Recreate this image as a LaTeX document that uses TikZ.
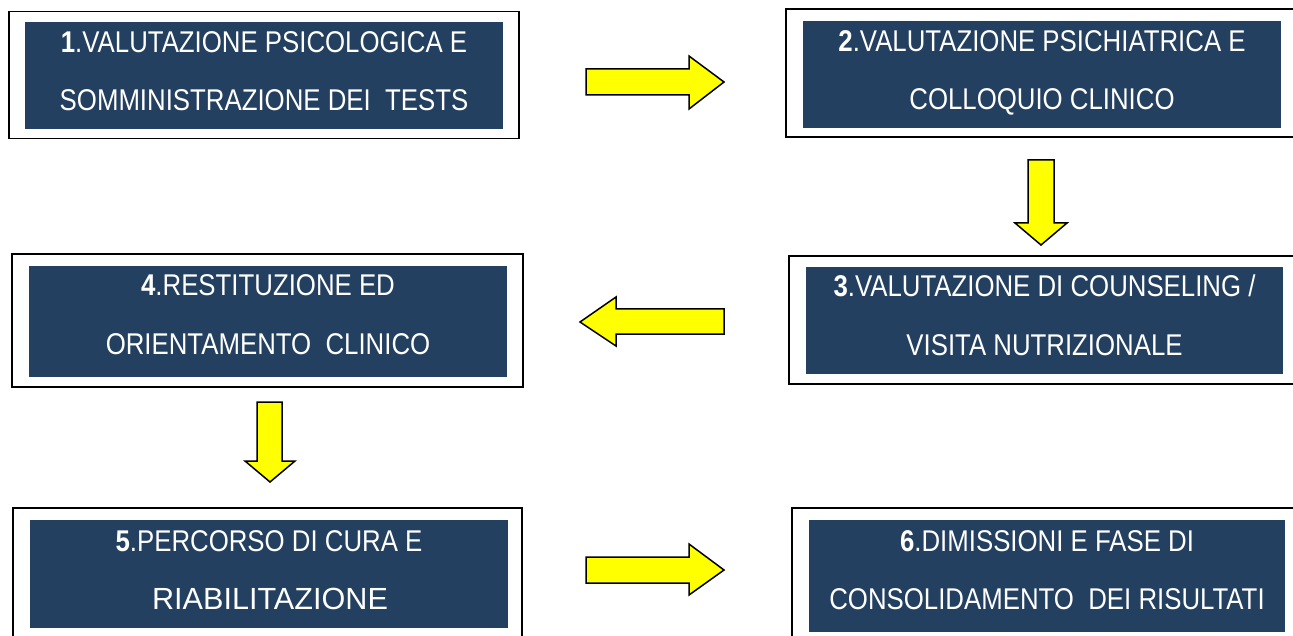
\documentclass[tikz,border=0pt]{standalone}
\usepackage{fontspec}
\setmainfont{Liberation Sans}
\newfontfamily\narrowfont[FakeStretch=0.86]{Liberation Sans}
\newfontfamily\widefont{Liberation Sans}
\definecolor{boxblue}{RGB}{36,64,96}
\definecolor{arrowyellow}{RGB}{255,255,0}
\tikzset{
  frame/.style={draw=black, line width=1.8pt, fill=white, inner sep=0pt},
  innerbox/.style={fill=boxblue, draw=none, inner sep=0pt},
  txt/.style={text=white, anchor=base, inner sep=0pt, font=\narrowfont\fontsize{30}{36}\selectfont},
  widetxt/.style={text=white, anchor=base, inner sep=0pt, font=\widefont\fontsize{30.6}{36}\selectfont},
  blockarrow/.style={fill=arrowyellow, draw=black, line width=1.5pt, line join=miter}
}
\begin{document}
\begin{tikzpicture}[x=1pt,y=-1pt]
\useasboundingbox (0,0) rectangle (1293,636);
\clip (0,0) rectangle (1293,636);
% outer frames
\node[frame, minimum width=510pt, minimum height=127pt] (f1) at (264,75) {};
\node[frame, minimum width=512pt, minimum height=128pt] (f2) at (1042,73) {};
\node[frame, minimum width=511pt, minimum height=128pt] (f3) at (1044.5,320) {};
\node[frame, minimum width=511pt, minimum height=133pt] (f4) at (267.5,320.5) {};
\node[frame, minimum width=509pt, minimum height=131pt] (f5) at (267.5,573.5) {};
\node[frame, minimum width=508pt, minimum height=135pt] (f6) at (1046,575.5) {};
% inner boxes
\node[innerbox, minimum width=478pt, minimum height=107pt] (b1) at (264,75.5) {};
\node[innerbox, minimum width=478pt, minimum height=107pt] (b2) at (1042,74.5) {};
\node[innerbox, minimum width=477pt, minimum height=107pt] (b3) at (1044.5,320.5) {};
\node[innerbox, minimum width=478pt, minimum height=111pt] (b4) at (268,321.5) {};
\node[innerbox, minimum width=478pt, minimum height=108pt] (b5) at (269,574) {};
\node[innerbox, minimum width=476pt, minimum height=112pt] (b6) at (1047,576) {};
% texts
\node[txt] (t1a) at (264,53) {\textbf{1}.VALUTAZIONE PSICOLOGICA E};
\node[txt] (t1b) at (264,111) {SOMMINISTRAZIONE DEI\ \ TESTS};
\node[txt] (t2a) at (1042,52) {\textbf{2}.VALUTAZIONE PSICHIATRICA E};
\node[txt] (t2b) at (1042,110) {COLLOQUIO CLINICO};
\node[txt] (t3a) at (1044.5,297) {\textbf{3}.VALUTAZIONE DI COUNSELING /};
\node[txt] (t3b) at (1044.5,355) {VISITA NUTRIZIONALE};
\node[txt] (t4a) at (268,296) {\textbf{4}.RESTITUZIONE ED};
\node[txt] (t4b) at (268,354) {ORIENTAMENTO\ \ CLINICO};
\node[txt] (t5a) at (269,551) {\textbf{5}.PERCORSO DI CURA E};
\node[widetxt] (t5b) at (270,609) {RIABILITAZIONE};
\node[txt] (t6a) at (1047,551) {\textbf{6}.DIMISSIONI E FASE DI};
\node[txt] (t6b) at (1047,609) {CONSOLIDAMENTO\ \ DEI RISULTATI};
% block arrows
\draw[blockarrow] (586,69) -- (689,69) -- (689,56) -- (724,82) -- (689,109) -- (689,95) -- (586,95) -- cycle;
\draw[blockarrow] (1028,160) -- (1054,160) -- (1054,223) -- (1067,223) -- (1041,245) -- (1015,223) -- (1028,223) -- cycle;
\draw[blockarrow] (724,309) -- (616,309) -- (616,297) -- (580,322) -- (616,346) -- (616,334) -- (724,334) -- cycle;
\draw[blockarrow] (257,402) -- (282,402) -- (282,461) -- (295,461) -- (270,482) -- (245,461) -- (257,461) -- cycle;
\draw[blockarrow] (586,557) -- (689,557) -- (689,544) -- (724,570) -- (689,595) -- (689,583) -- (586,583) -- cycle;
\end{tikzpicture}
\end{document}
